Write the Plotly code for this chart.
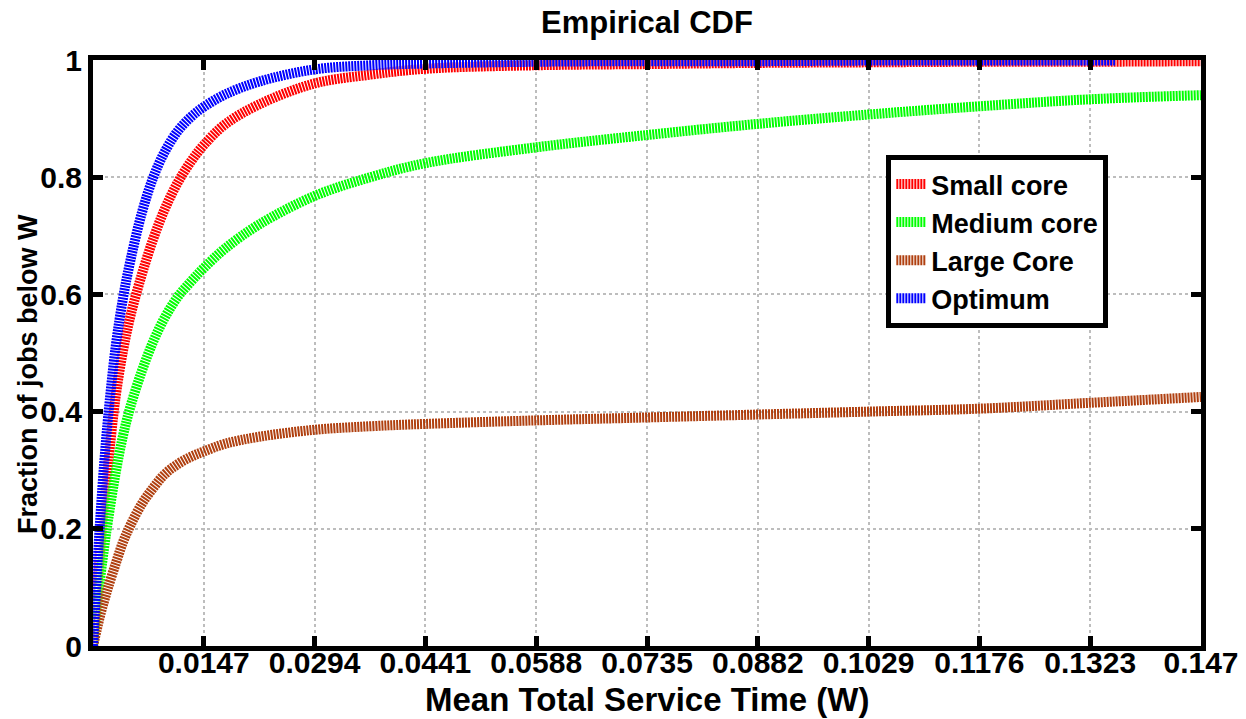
import plotly.graph_objects as go

# Sample positions along the service-time axis (W)
w_grid = [0, 0.0005, 0.001, 0.0015, 0.002, 0.003, 0.004, 0.005, 0.0065, 0.008,
          0.0095, 0.0112, 0.013, 0.0147, 0.0175, 0.022, 0.0294, 0.0368, 0.0441,
          0.0588, 0.0735, 0.0882, 0.1029, 0.1176, 0.1323, 0.147]

small_core = [0, 0.09, 0.17, 0.245, 0.31, 0.425, 0.505, 0.565, 0.635, 0.695,
              0.745, 0.79, 0.827, 0.855, 0.89, 0.924, 0.960, 0.975, 0.985,
              0.991, 0.993, 0.995, 0.996, 0.997, 0.997, 0.998]

medium_core = [0, 0.06, 0.12, 0.17, 0.215, 0.295, 0.36, 0.41, 0.47, 0.52,
               0.56, 0.595, 0.622, 0.645, 0.678, 0.719, 0.768, 0.800, 0.824,
               0.851, 0.872, 0.891, 0.907, 0.921, 0.933, 0.940]

large_core = [0, 0.028, 0.055, 0.078, 0.10, 0.14, 0.178, 0.207, 0.243, 0.27,
              0.293, 0.31, 0.323, 0.332, 0.345, 0.357, 0.369, 0.375, 0.379,
              0.385, 0.390, 0.395, 0.400, 0.405, 0.415, 0.425]

# The optimum run stops a little before the end of the axis
w_opt = [0, 0.0005, 0.001, 0.0015, 0.002, 0.003, 0.004, 0.005, 0.0065, 0.008,
         0.0095, 0.0112, 0.013, 0.0147, 0.0175, 0.022, 0.0294, 0.0368, 0.0441,
         0.0588, 0.0735, 0.0882, 0.1029, 0.1176, 0.1323, 0.1356]
optimum = [0, 0.12, 0.225, 0.315, 0.39, 0.51, 0.595, 0.66, 0.74, 0.80,
           0.843, 0.878, 0.903, 0.920, 0.941, 0.963, 0.984, 0.991, 0.994,
           0.997, 0.998, 0.998, 0.999, 0.999, 0.999, 0.999]

series_names = ["Small core", "Medium core", "Large Core", "Optimum"]
series_colors = ["#ff0000", "#00ff00", "#b04010", "#0000ff"]

x_ticks = [0.0147, 0.0294, 0.0441, 0.0588, 0.0735, 0.0882, 0.1029, 0.1176, 0.1323, 0.147]
x_ticktext = ["0.0147", "0.0294", "0.0441", "0.0588", "0.0735", "0.0882",
              "0.1029", "0.1176", "0.1323", "0.147"]
y_ticks = [0, 0.2, 0.4, 0.6, 0.8, 1.0]
y_ticktext = ["0", "0.2", "0.4", "0.6", "0.8", "1"]

FONT = "Liberation Sans, Arial, Helvetica, sans-serif"

fig = go.Figure()
for name, xs, ys, col in zip(series_names,
                             [w_grid, w_grid, w_grid, w_opt],
                             [small_core, medium_core, large_core, optimum],
                             series_colors):
    fig.add_trace(go.Scatter(
        x=xs, y=ys, name=name, mode="lines",
        line=dict(color=col, width=10, dash="2px,1px", shape="spline", smoothing=1.0),
    ))

axis_common = dict(
    showline=True, linecolor="black", linewidth=5, mirror="ticks",
    ticks="inside", ticklen=10, tickwidth=5, tickcolor="black",
    showgrid=True, gridcolor="#bdbdbd", gridwidth=2, griddash="dot",
    zeroline=False, automargin=False,
    tickfont=dict(family=FONT, size=30, color="black", weight="bold"),
)

fig.update_layout(
    width=1246, height=719,
    margin=dict(l=93, r=45, t=60, b=73),
    paper_bgcolor="white", plot_bgcolor="white",
    title=dict(text="Empirical CDF", x=0.5, xref="paper", xanchor="center",
               y=1 - 22 / 719, yref="container", yanchor="middle",
               font=dict(family=FONT, size=31, color="black", weight="bold")),
    xaxis=dict(range=[0, 0.147], tickvals=x_ticks, ticktext=x_ticktext,
               ticklabelstandoff=-14, **axis_common),
    yaxis=dict(range=[0, 1], tickvals=y_ticks, ticktext=y_ticktext, **axis_common),
    legend=dict(x=0.716, y=0.838, xanchor="left", yanchor="top",
                bgcolor="white", bordercolor="black", borderwidth=5,
                font=dict(family=FONT, size=27, color="black", weight="bold"),
                itemwidth=30, tracegroupgap=0),
    showlegend=True,
    annotations=[
        dict(text="Mean Total Service Time (W)", xref="paper", yref="paper",
             x=0.5, y=-0.092, xanchor="center", yanchor="middle", showarrow=False,
             font=dict(family=FONT, size=33, color="black", weight="bold")),
        dict(text="Fraction of jobs below W", xref="paper", yref="paper",
             x=-0.0587, y=0.464, xanchor="center", yanchor="middle", showarrow=False,
             textangle=-90,
             font=dict(family=FONT, size=27, color="black", weight="bold")),
    ],
)

fig.write_html("out.html")
